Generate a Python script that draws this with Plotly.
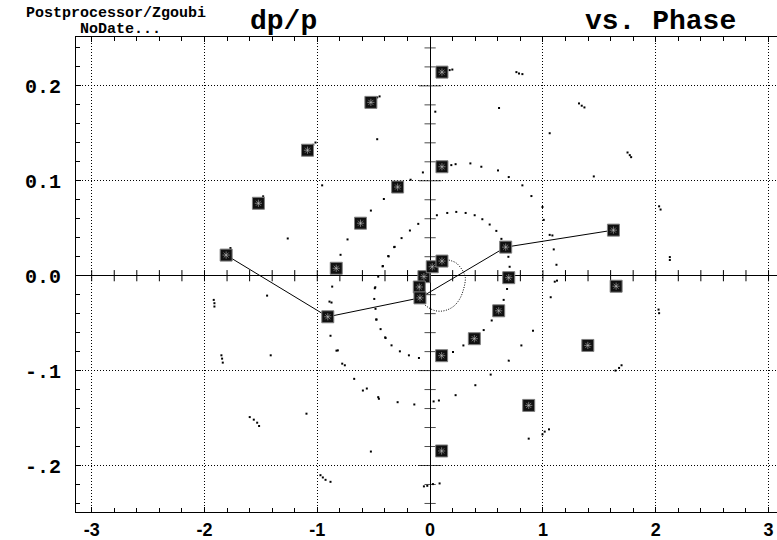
import numpy as np
import plotly.graph_objects as go

# Turn-by-turn snapshots of the launched particles (phase [rad], dp/p)
marker_phase = [-1.808, -1.522, -1.087, -0.525, -0.288, -0.617, -0.832, -0.907,
                -0.055, -0.096, -0.090, 0.019, 0.105, 0.105, 0.105, 0.670,
                1.625, 0.697, 0.608, 0.392, 0.102, 1.649, 1.398, 0.874, 0.102]
marker_dpp = [0.0217, 0.0763, 0.1322, 0.1826, 0.0934, 0.0553, 0.0078, -0.0433,
              -0.0010, -0.0119, -0.0234, 0.0094, 0.0154, 0.1148, 0.2145, 0.0301,
              0.0480, -0.0021, -0.0370, -0.0664, -0.0843, -0.0111, -0.0735, -0.1367, -0.1847]

# Particle followed with a joining line (indices into the marker lists)
path_index = [0, 7, 10, 15, 16]

# Tracking points of the other particles
dot_phase = [-0.469, -0.448, -0.469, -1.036, -1.016, -0.064, -0.173, -0.957, -0.410, -1.480,
             -0.525, -0.105, -0.179, -0.253, -0.732, -1.262, -0.315, -0.371, -0.794, -0.419,
             -1.770, 0.173, 0.197, 0.765, 0.788, 0.818, 0.046, 0.611, 1.320, 1.344,
             1.368, 1.060, 1.750, 1.770, 1.782, 0.188, 0.226, 0.357, 0.454, 0.602,
             0.697, 0.818, 0.898, 1.451, 0.996, 1.007, 2.030, 2.043, 0.060, 0.152,
             0.232, 0.315, 0.395, 0.463, 0.528, 0.587, 0.632, 0.694, 0.705, 1.060,
             1.084, 1.096, 1.120, 2.125, 2.125, -1.918, -1.912, -1.912, -1.445, -0.868,
             -0.892, -0.874, -0.490, -0.460, -0.495, -0.484, -0.475, -0.439, -0.395, -0.342,
             -0.268, -0.188, -0.099, -0.883, -0.830, -0.818, -0.779, -0.756, -0.673, -0.596,
             -0.561, -0.460, -0.454, -0.288, -0.140, -1.850, -1.844, -1.838, -1.413, -1.599,
             -1.563, -1.533, -1.516, -1.096, -0.525, -0.972, -0.951, -0.927, -0.883, -0.055,
             -0.025, 0.682, 0.652, 0.546, 0.475, 0.295, 0.203, 0.697, 0.809, 0.912,
             1.105, 1.125, 1.069, 1.675, 1.697, 1.643, 2.025, 2.030, 0.537, 0.401,
             0.226, 0.078, 0.031, 1.054, 1.016, 0.996, 0.874, 0.025, 0.084, -0.318,
             -0.368, -0.421, -0.486, -0.478, -0.398]
dot_dpp = [0.1878, 0.1889, 0.1438, 0.1379, 0.1403, 0.1088, 0.1011, 0.0952, 0.0808, 0.0836,
           0.0686, 0.0546, 0.0476, 0.0396, 0.0382, 0.0392, 0.0304, 0.0207, 0.0220, 0.0102,
           0.0291, 0.2166, 0.2172, 0.2145, 0.2130, 0.2124, 0.1728, 0.1767, 0.1815, 0.1791,
           0.1773, 0.1501, 0.1298, 0.1270, 0.1249, 0.1165, 0.1175, 0.1183, 0.1148, 0.1109,
           0.1039, 0.0952, 0.0839, 0.1046, 0.0724, 0.0588, 0.0731, 0.0697, 0.0637, 0.0661,
           0.0672, 0.0661, 0.0637, 0.0595, 0.0539, 0.0472, 0.0388, 0.0199, 0.0094, 0.0430,
           0.0424, 0.0277, 0.0115, 0.0196, 0.0165, -0.0255, -0.0290, -0.0325, -0.0210, -0.0115,
           -0.0273, -0.0283, -0.0132, -0.0010, -0.0245, -0.0349, -0.0462, -0.0563, -0.0657, -0.0734,
           -0.0797, -0.0839, -0.0867, -0.0633, -0.0790, -0.0787, -0.0927, -0.0944, -0.1087, -0.1210,
           -0.1189, -0.1280, -0.1297, -0.1333, -0.1357, -0.0839, -0.0874, -0.0916, -0.0839, -0.1490,
           -0.1517, -0.1549, -0.1584, -0.1454, -0.1853, -0.2102, -0.2126, -0.2151, -0.2172, -0.2220,
           -0.2214, -0.0140, -0.0255, -0.0472, -0.0573, -0.0735, -0.0804, -0.0895, -0.0735, -0.0580,
           -0.0063, -0.0052, -0.0227, -0.0972, -0.0944, -0.1000, -0.0357, -0.0395, -0.1042, -0.1154,
           -0.1259, -0.1315, -0.1325, -0.1619, -0.1643, -0.1672, -0.1717, -0.2196, -0.2189, 0.0301,
           0.0203, 0.0098, -0.0122, -0.0462, -0.0650]

# Densely sampled small orbit close to the origin
orbit_phase = [0.105, 0.144, 0.188, 0.232, 0.268, 0.297, 0.312, 0.309, 0.297, 0.277,
               0.247, 0.209, 0.158, 0.099, 0.040, -0.020, -0.064, -0.090, -0.096, -0.055,
               0.019, 0.105]
orbit_dpp = [0.0154, 0.0168, 0.0157, 0.0133, 0.0088, 0.0035, -0.0017, -0.0077, -0.0140, -0.0210,
             -0.0273, -0.0322, -0.0357, -0.0374, -0.0367, -0.0332, -0.0287, -0.0234, -0.0119, -0.0010,
             0.0094, 0.0154]

x_ticks = [-3, -2, -1, 0, 1, 2, 3]
x_ticktext = ["-3", "-2", "-1", "0", "1", "2", "3"]
y_ticks = [-0.2, -0.1, 0.0, 0.1, 0.2]
y_ticktext = ["-.2", "-.1", "0.0", "0.1", "0.2"]

MONO = "Liberation Mono, Courier New, monospace"
SANS = "Liberation Sans, Arial, sans-serif"

fig = go.Figure()

# tick marks crossing the central axes
cx = np.round(np.arange(-3.0, 3.01, 0.2), 2)
cx = cx[np.abs(cx) > 1e-9]
fig.add_trace(go.Scatter(x=cx, y=np.zeros_like(cx), mode="markers", hoverinfo="skip",
                         marker=dict(symbol="line-ns-open", size=8, color="black",
                                     line=dict(color="black", width=1))))
cy = np.round(np.arange(-0.24, 0.245, 0.02), 2)
cy = cy[np.abs(cy) > 1e-9]
major = np.isclose(np.abs(cy * 10) % 1, 0) | np.isclose(np.abs(cy * 10) % 1, 1)
fig.add_trace(go.Scatter(x=np.zeros_like(cy), y=cy, mode="markers", hoverinfo="skip",
                         marker=dict(symbol="line-ew-open", size=np.where(major, 16, 8),
                                     color="black", line=dict(color="black", width=1))))

# small orbit near the origin
fig.add_trace(go.Scatter(x=orbit_phase, y=orbit_dpp, mode="lines",
                         line=dict(color="black", width=1, dash="1px,1.5px", shape="spline")))

# scattered tracking points
fig.add_trace(go.Scatter(x=dot_phase, y=dot_dpp, mode="markers",
                         marker=dict(symbol="square", size=2, color="black", line=dict(width=0))))

# joined trajectory
fig.add_trace(go.Scatter(x=[marker_phase[i] for i in path_index],
                         y=[marker_dpp[i] for i in path_index],
                         mode="lines", line=dict(color="black", width=1)))

# large hatched squares
fig.add_trace(go.Scatter(x=marker_phase, y=marker_dpp, mode="markers",
                         marker=dict(symbol="square", size=12, color="#101010",
                                     line=dict(color="#808080", width=1))))
fig.add_trace(go.Scatter(x=marker_phase, y=marker_dpp, mode="markers",
                         marker=dict(symbol="asterisk-open", size=6, color="rgba(200,200,200,0.55)",
                                     line=dict(color="rgba(200,200,200,0.55)", width=1))))

fig.update_layout(
    width=777, height=540,
    margin=dict(l=76, r=0, t=37, b=26),
    paper_bgcolor="white", plot_bgcolor="white",
    showlegend=False,
    xaxis=dict(range=[-3.139, 3.075], tickvals=x_ticks, ticktext=x_ticktext,
               ticks="inside", ticklen=5, tickcolor="black", tickwidth=1,
               showline=True, linecolor="black", linewidth=1, mirror="allticks",
               showgrid=True, gridcolor="black", gridwidth=1, griddash="1px,2px",
               zeroline=True, zerolinecolor="black", zerolinewidth=1,
               minor=dict(dtick=0.2, ticks="inside", ticklen=4, tickcolor="black", showgrid=False),
               tickfont=dict(family=SANS, size=18, color="black", weight="bold"),
               ticklabelstandoff=1),
    yaxis=dict(range=[-0.249, 0.2515], tickvals=y_ticks, ticktext=y_ticktext,
               ticks="inside", ticklen=5, tickcolor="black", tickwidth=1,
               showline=True, linecolor="black", linewidth=1, mirror=False,
               showgrid=True, gridcolor="black", gridwidth=1, griddash="1px,2px",
               zeroline=True, zerolinecolor="black", zerolinewidth=1,
               minor=dict(dtick=0.02, ticks="inside", ticklen=4, tickcolor="black", showgrid=False),
               tickfont=dict(family=MONO, size=20, color="black", weight="bold"),
               ticklabelstandoff=10),
)

def label(text, x, y, size):
    fig.add_annotation(text="<b>" + text + "</b>", xref="paper", yref="paper", x=x, y=y,
                       xanchor="center", yanchor="middle", showarrow=False,
                       font=dict(family=MONO, size=size, color="black", weight="bold"))

label("Postprocessor/Zgoubi", 0.057, 1.0505, 15)
label("NoDate...", 0.063, 1.0150, 15)
label("dp/p", 0.2953, 1.0335, 28)
label("vs. Phase", 0.8345, 1.0335, 28)

fig.write_html("out.html")
